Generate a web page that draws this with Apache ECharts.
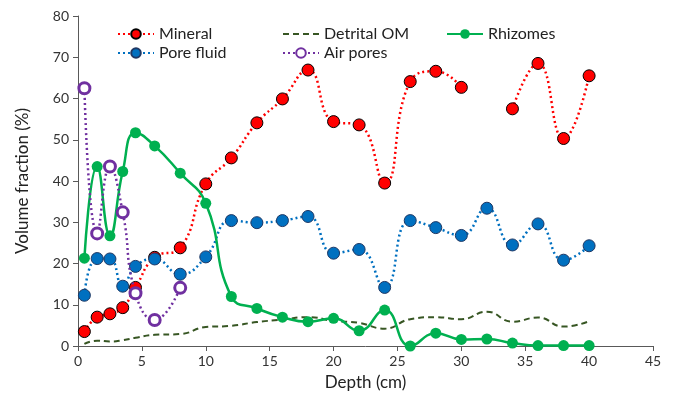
<!DOCTYPE html>
<html>
<head>
<meta charset="utf-8">
<script src="https://cdn.jsdelivr.net/npm/echarts@6/dist/echarts.min.js"></script>
<style>html,body{margin:0;padding:0;background:#fff}#c{width:680px;height:400px}</style>
</head>
<body>
<div id="c"></div>
<script>
const depths = [0.5, 1.5, 2.5, 3.5, 4.5, 6, 8, 10, 12, 14, 16, 18, 20, 22, 24, 26, 28, 30, 32, 34, 36, 38, 40];
const mineral = [3.5, 7.0, 7.8, 9.3, 14.2, 21.5, 23.8, 39.3, 45.6, 54.1, 59.9, 66.9, 54.4, 53.6, 39.5, 64.1, 66.6, 62.7, null, 57.5, 68.5, 50.3, 65.5];
const poreFluid = [12.3, 21.2, 21.1, 14.5, 19.3, 21.1, 17.4, 21.6, 30.4, 29.9, 30.4, 31.4, 22.5, 23.4, 14.2, 30.4, 28.7, 26.8, 33.4, 24.5, 29.6, 20.8, 24.3];
const detritalOM = [0.5, 1.3, 1.1, 1.4, 2.0, 2.7, 2.9, 4.6, 4.9, 5.8, 6.4, 7.0, 6.1, 5.6, 4.2, 6.5, 7.0, 6.5, 8.3, 5.9, 6.9, 4.7, 6.0];
const rhizomes = [21.3, 43.5, 26.7, 42.3, 51.7, 48.5, 41.9, 34.6, 12.0, 9.1, 7.0, 5.9, 6.7, 3.7, 8.7, 0.0, 3.1, 1.6, 1.7, 0.7, 0.1, 0.1, 0.1];
const airDepths = [0.5, 1.5, 2.5, 3.5, 4.5, 6, 8];
const airPores = [62.5, 27.3, 43.5, 32.4, 12.8, 6.3, 14.1];
const xTicks = [0, 5, 10, 15, 20, 25, 30, 35, 40, 45];
const yTicks = [0, 10, 20, 30, 40, 50, 60, 70, 80];

const pair = (xs, ys) => xs.map((x, i) => [x, ys[i]]);
const FONT = 'Lato, "Open Sans", sans-serif';

const chart = echarts.init(document.getElementById('c'), null, {renderer: 'canvas'});
const legendText = {fontFamily: FONT, fontSize: 16, color: '#222', lineHeight: 16};
const legendBase = {orient: 'vertical', top: 21, itemWidth: 36, itemHeight: 12, itemGap: 3, textStyle: legendText};
chart.setOption({
  animation: false,
  backgroundColor: '#fff',
  textStyle: {fontFamily: FONT},
  grid: {left: 78, right: 27, top: 16, bottom: 54, containLabel: false},
  legend: [
    Object.assign({data: ['Mineral', 'Pore fluid'], left: 112}, legendBase),
    Object.assign({data: [{name: 'Detrital OM', itemStyle: {opacity: 0}}, 'Air pores'], left: 277}, legendBase),
    Object.assign({data: ['Rhizomes'], left: 441}, legendBase)
  ],
  xAxis: {
    type: 'value', min: xTicks[0], max: xTicks[xTicks.length - 1], interval: 5,
    name: 'Depth (cm)', nameLocation: 'middle', nameGap: 28,
    nameTextStyle: {fontFamily: FONT, fontSize: 17, color: '#222'},
    axisLine: {show: true, lineStyle: {color: '#595959', width: 1}},
    axisTick: {show: true, inside: false, length: 5, lineStyle: {color: '#595959'}},
    axisLabel: {fontFamily: FONT, fontSize: 14, color: '#333', margin: 8},
    splitLine: {show: false}
  },
  yAxis: {
    type: 'value', min: yTicks[0], max: yTicks[yTicks.length - 1], interval: 10,
    name: 'Volume fraction (%)', nameLocation: 'middle', nameGap: 47,
    nameTextStyle: {fontFamily: FONT, fontSize: 17, color: '#222'},
    axisLine: {show: true, lineStyle: {color: '#595959', width: 1}},
    axisTick: {show: true, inside: false, length: 5, lineStyle: {color: '#595959'}},
    axisLabel: {fontFamily: FONT, fontSize: 14, color: '#333', margin: 9},
    splitLine: {show: false}
  },
  series: [
    {
      name: 'Detrital OM', type: 'line', data: pair(depths, detritalOM), smooth: 0.5,
      symbol: 'none', showSymbol: false,
      lineStyle: {color: '#375623', width: 2, type: [6, 4]},
      itemStyle: {color: '#375623'}, z: 2
    },
    {
      name: 'Mineral', type: 'line', data: pair(depths, mineral), smooth: 0.5, connectNulls: false,
      symbol: 'circle', symbolSize: 12,
      lineStyle: {color: '#ff0000', width: 2.5, type: [2, 3]},
      itemStyle: {color: '#ff0000', borderColor: '#000', borderWidth: 1}, z: 3
    },
    {
      name: 'Pore fluid', type: 'line', data: pair(depths, poreFluid), smooth: 0.5,
      symbol: 'circle', symbolSize: 12,
      lineStyle: {color: '#0070c0', width: 2.5, type: [2, 3]},
      itemStyle: {color: '#0070c0', borderColor: '#1f3864', borderWidth: 1}, z: 3
    },
    {
      name: 'Rhizomes', type: 'line', data: pair(depths, rhizomes), smooth: 0.5,
      symbol: 'circle', symbolSize: 11,
      lineStyle: {color: '#00b050', width: 2.5},
      itemStyle: {color: '#00b050', borderWidth: 0}, z: 4
    },
    {
      name: 'Air pores', type: 'line', data: pair(airDepths, airPores), smooth: 0.5,
      symbol: 'circle', symbolSize: 11,
      lineStyle: {color: '#7030a0', width: 2.5, type: [2, 3]},
      itemStyle: {color: '#ffffff', borderColor: '#7030a0', borderWidth: 3}, z: 5
    }
  ]
});
</script>
</body>
</html>
